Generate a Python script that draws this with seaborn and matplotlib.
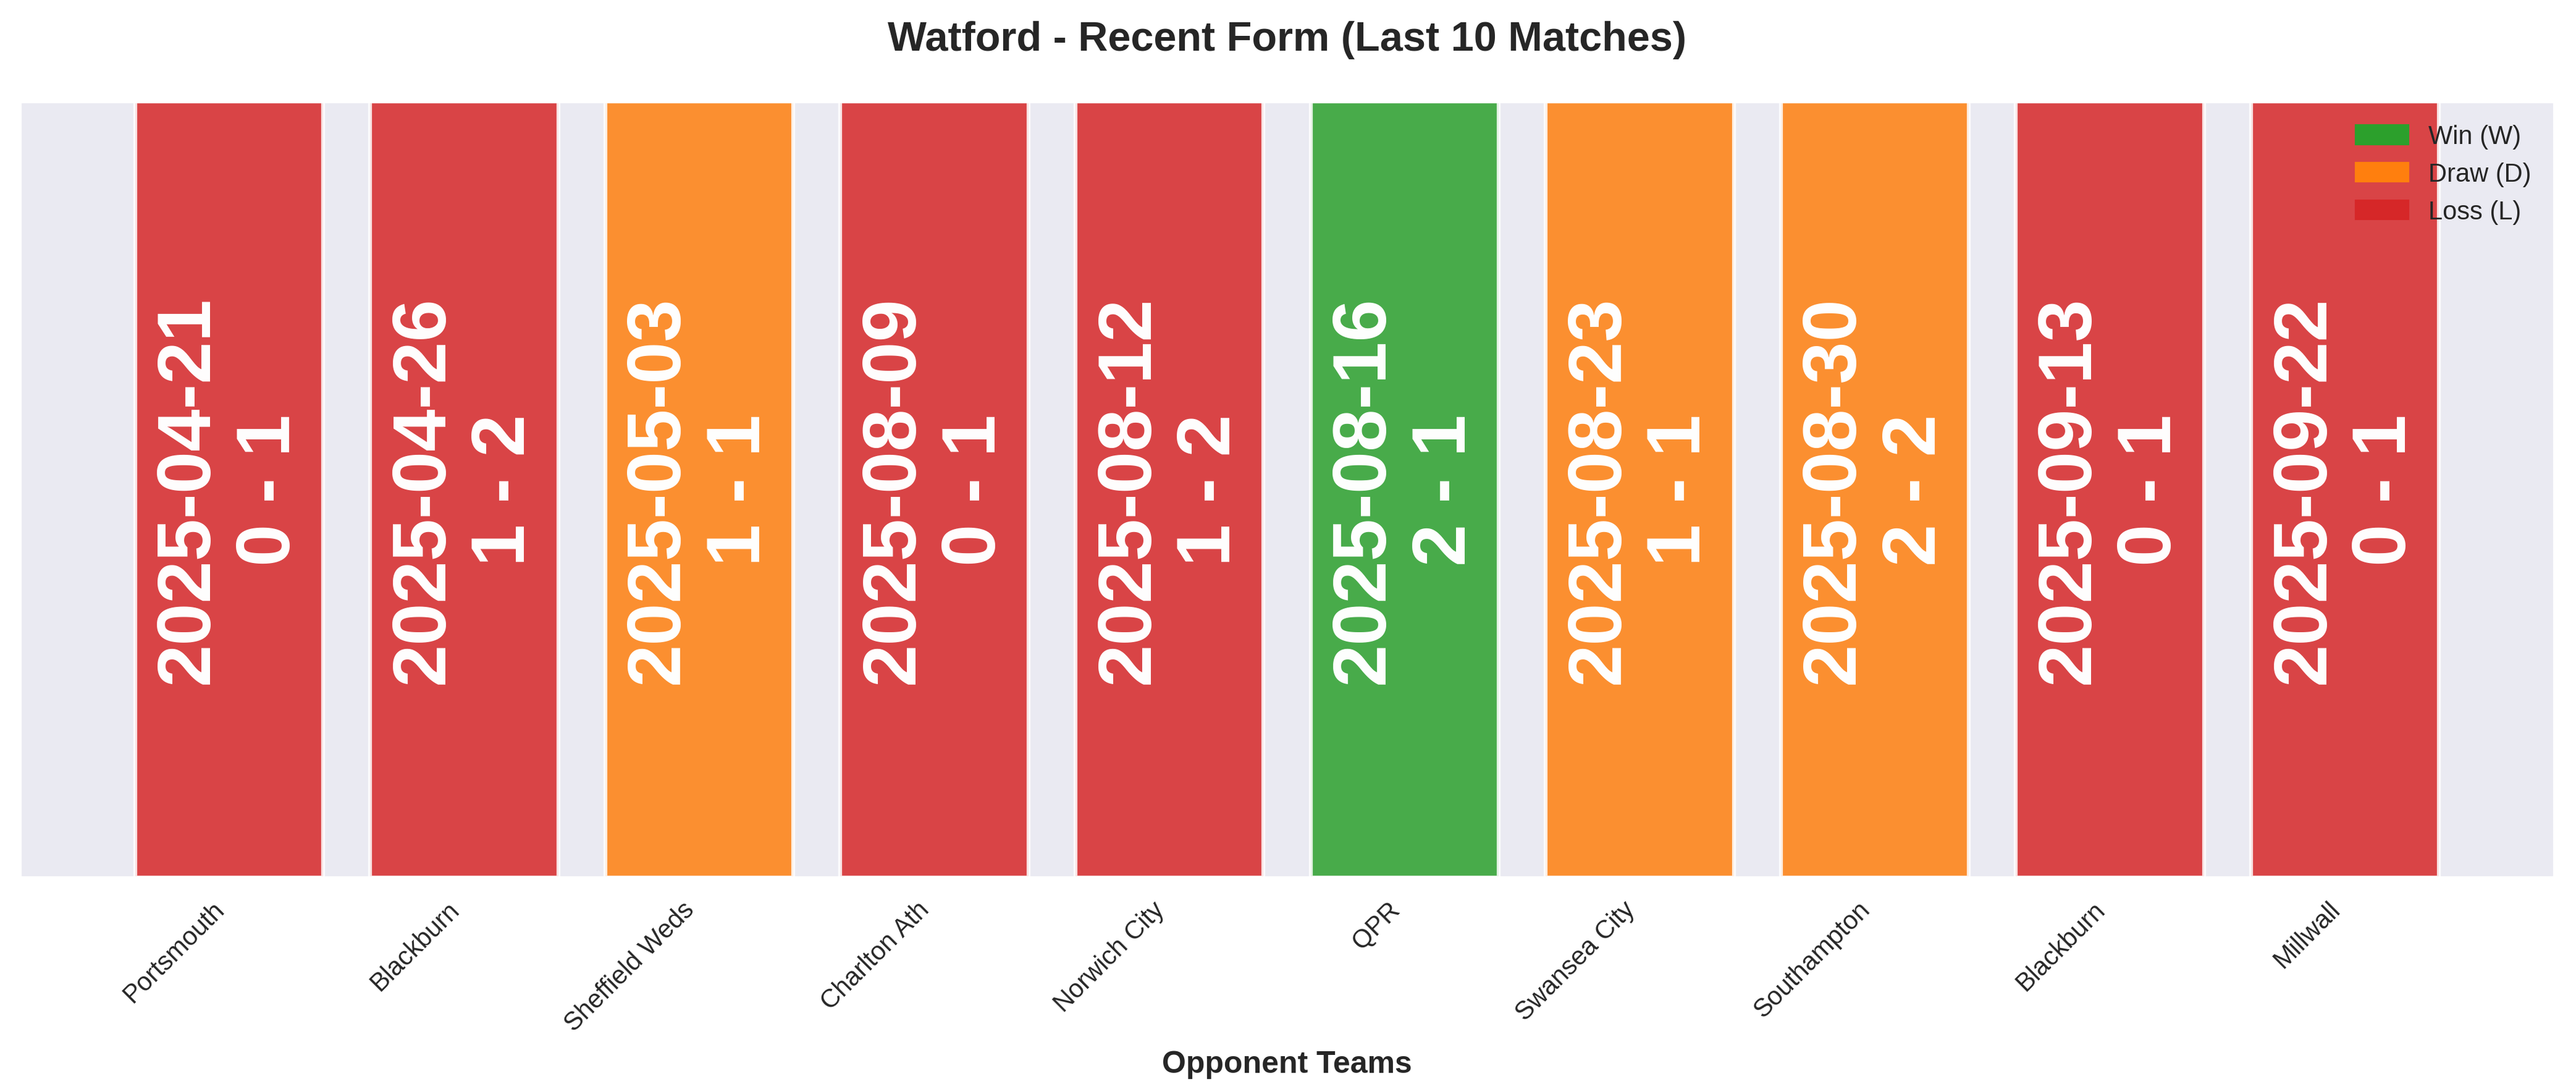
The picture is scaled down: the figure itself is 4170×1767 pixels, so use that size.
import matplotlib
matplotlib.use("Agg")
import matplotlib.pyplot as plt
from matplotlib.patches import Patch
import seaborn as sns
import pandas as pd

# Datos de los ultimos 10 partidos
opponents = ['Portsmouth', 'Blackburn', 'Sheffield Weds', 'Charlton Ath', 'Norwich City',
             'QPR', 'Swansea City', 'Southampton', 'Blackburn', 'Millwall']
dates = ['2025-04-21', '2025-04-26', '2025-05-03', '2025-08-09', '2025-08-12',
         '2025-08-16', '2025-08-23', '2025-08-30', '2025-09-13', '2025-09-22']
scores = ['0 - 1', '1 - 2', '1 - 1', '0 - 1', '1 - 2',
          '2 - 1', '1 - 1', '2 - 2', '0 - 1', '0 - 1']
results = ['L', 'L', 'D', 'L', 'L', 'W', 'D', 'D', 'L', 'L']
heights = [1, 1, 1, 1, 1, 1, 1, 1, 1, 1]

colors = {'W': '#2ca02c', 'D': '#ff7f0e', 'L': '#d62728'}
labels = {'W': 'Win (W)', 'D': 'Draw (D)', 'L': 'Loss (L)'}

df = pd.DataFrame({'match': list(range(len(opponents))), 'value': heights,
                   'result': results})

sns.set_theme(style='darkgrid')
plt.rcParams['font.family'] = ['Liberation Sans', 'DejaVu Sans']

fig = plt.figure(figsize=(13.9, 5.893), dpi=300)
ax = fig.add_axes([0.0077, 0.1963, 0.9839, 0.7104])

sns.barplot(data=df, x='match', y='value', hue='result', palette=colors,
            dodge=False, width=0.8, alpha=0.85, saturation=1,
            edgecolor='white', linewidth=1.5, legend=False, ax=ax)

# Fecha y marcador dentro de cada barra
for i in range(len(opponents)):
    ax.text(i, 0.5, f'{dates[i]}\n{scores[i]}', rotation=90, ha='center',
            va='center', color='white', fontweight='bold', fontsize=29.5)

ax.set_xlim(-0.89, len(opponents) - 1 + 0.89)
ax.set_ylim(0, 1)
ax.set_yticks([])
ax.set_ylabel('')
ax.set_xticks(range(len(opponents)))
ax.set_xticklabels(opponents, rotation=45, ha='right', fontsize=10)
ax.tick_params(axis='x', pad=1.5)
ax.set_xlabel('Opponent Teams', fontsize=12, fontweight='bold', labelpad=5.5)
ax.set_title('Watford - Recent Form (Last 10 Matches)', fontsize=16,
             fontweight='bold', pad=20)

handles = [Patch(color=colors[k], label=labels[k]) for k in ['W', 'D', 'L']]
ax.legend(handles=handles, loc='upper right', frameon=False, fontsize=10)

fig.savefig('out.png', dpi=300)
